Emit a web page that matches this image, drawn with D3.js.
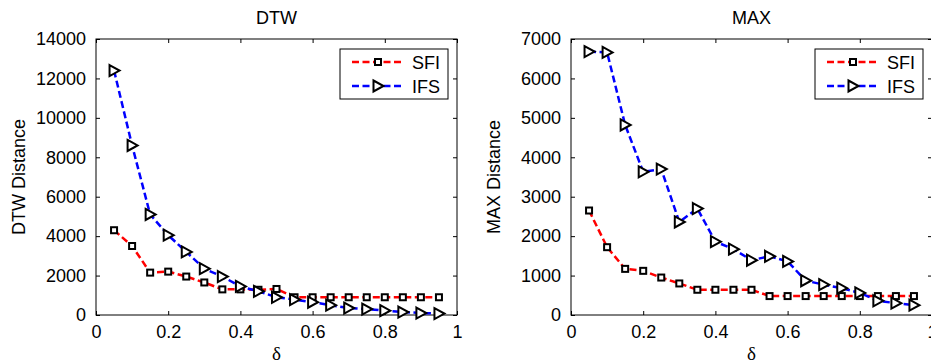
<!DOCTYPE html>
<html>
<head>
<meta charset="utf-8">
<script src="https://cdn.jsdelivr.net/npm/d3@7/dist/d3.min.js"></script>
<style>
  body { margin: 0; background: #fff; }
  svg { display: block; font-family: "Liberation Sans", Arial, sans-serif; }
</style>
</head>
<body>
<svg id="chart" width="931" height="362"></svg>
<script>
// delta values shared by both panels
const deltas = [0.05, 0.1, 0.15, 0.2, 0.25, 0.3, 0.35, 0.4, 0.45, 0.5,
                0.55, 0.6, 0.65, 0.7, 0.75, 0.8, 0.85, 0.9, 0.95];

const dtwSFI = [4300, 3500, 2150, 2200, 1950, 1650, 1300, 1300, 1280, 1320,
                900, 900, 900, 900, 900, 900, 900, 900, 900];
const dtwIFS = [12400, 8600, 5100, 4050, 3200, 2350, 1950, 1450, 1200, 900,
                780, 650, 500, 350, 300, 220, 150, 100, 70];

const maxSFI = [2650, 1720, 1170, 1120, 950, 800, 640, 640, 640, 640,
                480, 480, 480, 480, 480, 480, 480, 480, 480];
const maxIFS = [6680, 6660, 4820, 3630, 3700, 2360, 2700, 1860, 1670, 1390,
                1490, 1360, 870, 770, 680, 560, 360, 300, 250];

const xTicks = [0, 0.2, 0.4, 0.6, 0.8, 1];
const dtwTicks = d3.range(0, 14001, 2000);
const maxTicks = d3.range(0, 7001, 1000);
const seriesNames = ["SFI", "IFS"];

const svg = d3.select("#chart");

const panels = [
  { title: "DTW", ylabel: "DTW Distance", left: 96, yMax: 14000, yTicks: dtwTicks,
    series: [dtwSFI, dtwIFS] },
  { title: "MAX", ylabel: "MAX Distance", left: 571, yMax: 7000, yTicks: maxTicks,
    series: [maxSFI, maxIFS] }
];

const W = 361, plotTop = 39, plotBottom = 315, TICK = 4;
const colors = ["#ff0000", "#0000ff"];

function marker(g, kind) {
  if (kind === 0) {
    g.append("rect")
      .attr("x", -3).attr("y", -3).attr("width", 6).attr("height", 6)
      .attr("fill", "#fff").attr("stroke", "#000").attr("stroke-width", 2);
  } else {
    g.append("path")
      .attr("d", "M-4.5,-5.5L5.5,0L-4.5,5.5Z")
      .attr("fill", "#fff").attr("stroke", "#000").attr("stroke-width", 2)
      .attr("stroke-linejoin", "miter");
  }
}

panels.forEach(p => {
  const x = d3.scaleLinear().domain([0, 1]).range([p.left, p.left + W]);
  const y = d3.scaleLinear().domain([0, p.yMax]).range([plotBottom, plotTop]);
  const g = svg.append("g");

  // frame
  g.append("rect")
    .attr("x", x(0)).attr("y", plotTop)
    .attr("width", W).attr("height", plotBottom - plotTop)
    .attr("fill", "none").attr("stroke", "#000").attr("stroke-width", 1);

  // axes, ticks inward on all four sides
  g.append("g")
    .attr("transform", `translate(0,${plotBottom})`)
    .call(d3.axisBottom(x).tickValues(xTicks).tickSizeInner(-TICK).tickSizeOuter(0)
      .tickPadding(10).tickFormat(d3.format("~g")))
    .call(a => a.select(".domain").remove());
  g.append("g")
    .attr("transform", `translate(0,${plotTop})`)
    .call(d3.axisTop(x).tickValues(xTicks).tickSizeInner(-TICK).tickSizeOuter(0).tickFormat(""))
    .call(a => a.select(".domain").remove());
  g.append("g")
    .attr("transform", `translate(${x(0)},0)`)
    .call(d3.axisLeft(y).tickValues(p.yTicks).tickSizeInner(-TICK).tickSizeOuter(0)
      .tickPadding(10).tickFormat(d3.format("d")))
    .call(a => a.select(".domain").remove());
  g.append("g")
    .attr("transform", `translate(${x(1)},0)`)
    .call(d3.axisRight(y).tickValues(p.yTicks).tickSizeInner(-TICK).tickSizeOuter(0).tickFormat(""))
    .call(a => a.select(".domain").remove());

  g.selectAll(".tick text")
    .attr("font-size", 18).attr("font-family", "Liberation Sans, Arial, sans-serif")
    .attr("fill", "#000");
  g.selectAll(".tick line").attr("stroke", "#000");

  // lines then markers
  const line = d3.line().x((d, i) => x(deltas[i])).y(d => y(d));
  p.series.forEach((vals, k) => {
    g.append("path")
      .attr("d", line(vals))
      .attr("fill", "none")
      .attr("stroke", colors[k])
      .attr("stroke-width", 2.5)
      .attr("stroke-dasharray", "7,3.5");
  });
  p.series.forEach((vals, k) => {
    g.selectAll(null)
      .data(vals)
      .join("g")
      .attr("transform", (d, i) => `translate(${x(deltas[i])},${y(d)})`)
      .each(function() { marker(d3.select(this), k); });
  });

  // title and axis labels
  g.append("text")
    .attr("x", x(0.5)).attr("y", 24)
    .attr("text-anchor", "middle").attr("font-size", 18)
    .text(p.title);
  g.append("text")
    .attr("transform", `translate(${p.left - 71},${(plotTop + plotBottom) / 2}) rotate(-90)`)
    .attr("text-anchor", "middle").attr("font-size", 18)
    .text(p.ylabel);
  g.append("text")
    .attr("x", x(0.5)).attr("y", 360)
    .attr("text-anchor", "middle").attr("font-size", 19)
    .attr("font-family", "Liberation Serif, Times New Roman, serif")
    .text("δ");

  // legend
  const lx = x(1) - 117, ly = 49;
  const leg = g.append("g").attr("transform", `translate(${lx},${ly})`);
  leg.append("rect")
    .attr("width", 108).attr("height", 50)
    .attr("fill", "#fff").attr("stroke", "#000").attr("stroke-width", 1);
  seriesNames.forEach((name, k) => {
    const ry = 13 + k * 24;
    leg.append("line")
      .attr("x1", 12).attr("x2", 64).attr("y1", ry).attr("y2", ry)
      .attr("stroke", colors[k]).attr("stroke-width", 2.5)
      .attr("stroke-dasharray", "7,3.5");
    const m = leg.append("g").attr("transform", `translate(38,${ry})`);
    marker(m, k);
    leg.append("text")
      .attr("x", 72).attr("y", ry + 6.5)
      .attr("font-size", 18)
      .text(name);
  });
});
</script>
</body>
</html>
